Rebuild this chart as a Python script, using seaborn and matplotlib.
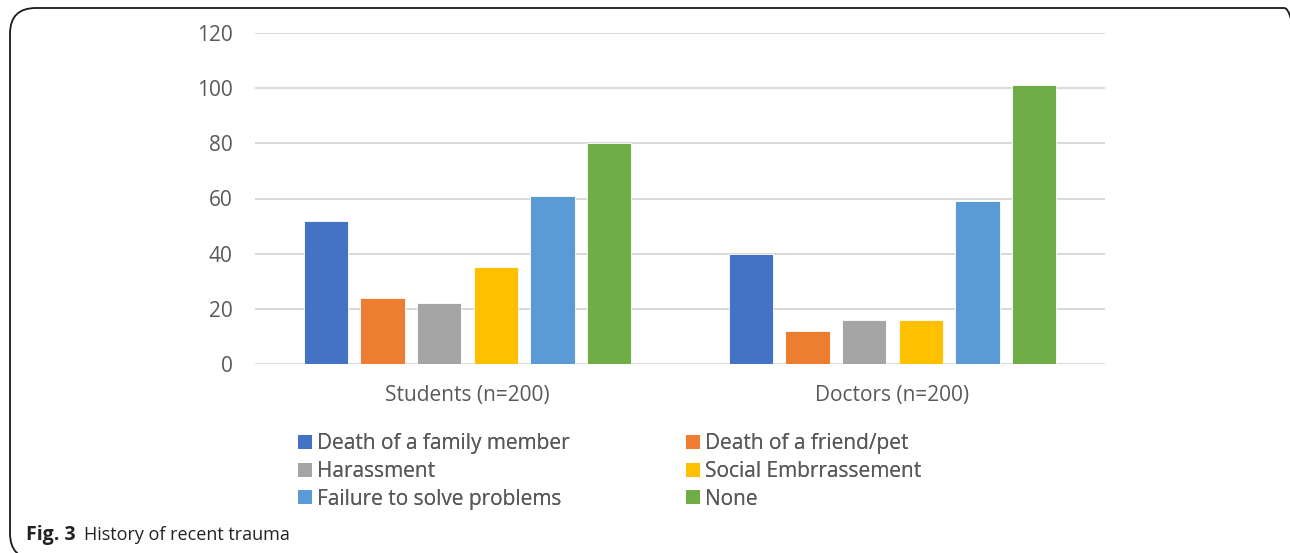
import matplotlib
matplotlib.use("Agg")
import matplotlib.pyplot as plt
from matplotlib.patches import FancyBboxPatch, Patch
import seaborn as sns
import pandas as pd

groups = ["Students (n=200)", "Doctors (n=200)"]
traumas = [
    "Death of a family member",
    "Death of a friend/pet",
    "Harassment",
    "Social Embrrassement",
    "Failure to solve problems",
    "None",
]
students = [52, 24, 22, 35, 61, 80]
doctors = [40, 12, 16, 16, 59, 101]
colors = ["#4472C4", "#ED7D31", "#A5A5A5", "#FFC000", "#5B9BD5", "#70AD47"]
y_ticks = [0, 20, 40, 60, 80, 100, 120]

df = pd.DataFrame({
    "group": [groups[0]] * len(traumas) + [groups[1]] * len(traumas),
    "trauma": traumas * 2,
    "count": students + doctors,
})

sns.set_theme(style="white")
plt.rcParams["font.family"] = ["Open Sans", "DejaVu Sans"]
text_color = "#595959"
grid_color = "#D9D9D9"

W, H = 1290, 553
fig = plt.figure(figsize=(W / 100, H / 100), dpi=100)
ax = fig.add_axes([255 / W, 1 - 364 / H, 850 / W, 331 / H])

sns.barplot(
    data=df, x="group", y="count", hue="trauma",
    order=groups, hue_order=traumas, palette=colors, saturation=1,
    width=0.8, gap=0.22, legend=False, ax=ax,
    edgecolor="white", linewidth=0.6, zorder=3,
)

ax.set_ylim(0, 120)
ax.set_yticks(y_ticks)
ax.set_xlim(-0.5, 1.5)
ax.set_xlabel("")
ax.set_ylabel("")
ax.yaxis.grid(True, color=grid_color, linewidth=1.4, zorder=0)
ax.set_axisbelow(True)
for s in ax.spines.values():
    s.set_visible(False)
ax.tick_params(axis="y", length=0, pad=16, labelsize=15, labelcolor=text_color)
ax.tick_params(axis="x", length=0, pad=15, labelsize=15, labelcolor=text_color)

# Legend in two columns, filled row by row
handles = [Patch(facecolor=c, edgecolor="none") for c in colors]
col_specs = [(298, [0, 2, 4]), (686, [1, 3, 5])]
for x0, idx in col_specs:
    leg = fig.legend(
        [handles[i] for i in idx], [traumas[i] for i in idx],
        loc="upper left", bbox_to_anchor=(x0 / W, 1 - 433 / H),
        frameon=False, fontsize=15, handlelength=0.66, handleheight=0.66,
        handletextpad=0.26, labelspacing=0.33, borderpad=0, borderaxespad=0,
        labelcolor=text_color,
    )
    fig.add_artist(leg)

# Caption
fig.text(26 / W, 1 - 535 / H, "Fig. 3", fontsize=14, fontweight="bold",
         color="#222222", va="center", ha="left")
fig.text(84 / W, 1 - 535 / H, "History of recent trauma", fontsize=13,
         color="#222222", va="center", ha="left")

# Rounded frame around the figure panel
frame = FancyBboxPatch(
    (10 / W, -6 / H), (W + 10) / W, (H - 8 + 6) / H,
    boxstyle="round,pad=0,rounding_size=0.02",
    transform=fig.transFigure, facecolor="none", edgecolor="#1a1a1a",
    linewidth=1.3, mutation_aspect=W / H, clip_on=False,
)
fig.patches.append(frame)

fig.savefig("out.png", dpi=100)
